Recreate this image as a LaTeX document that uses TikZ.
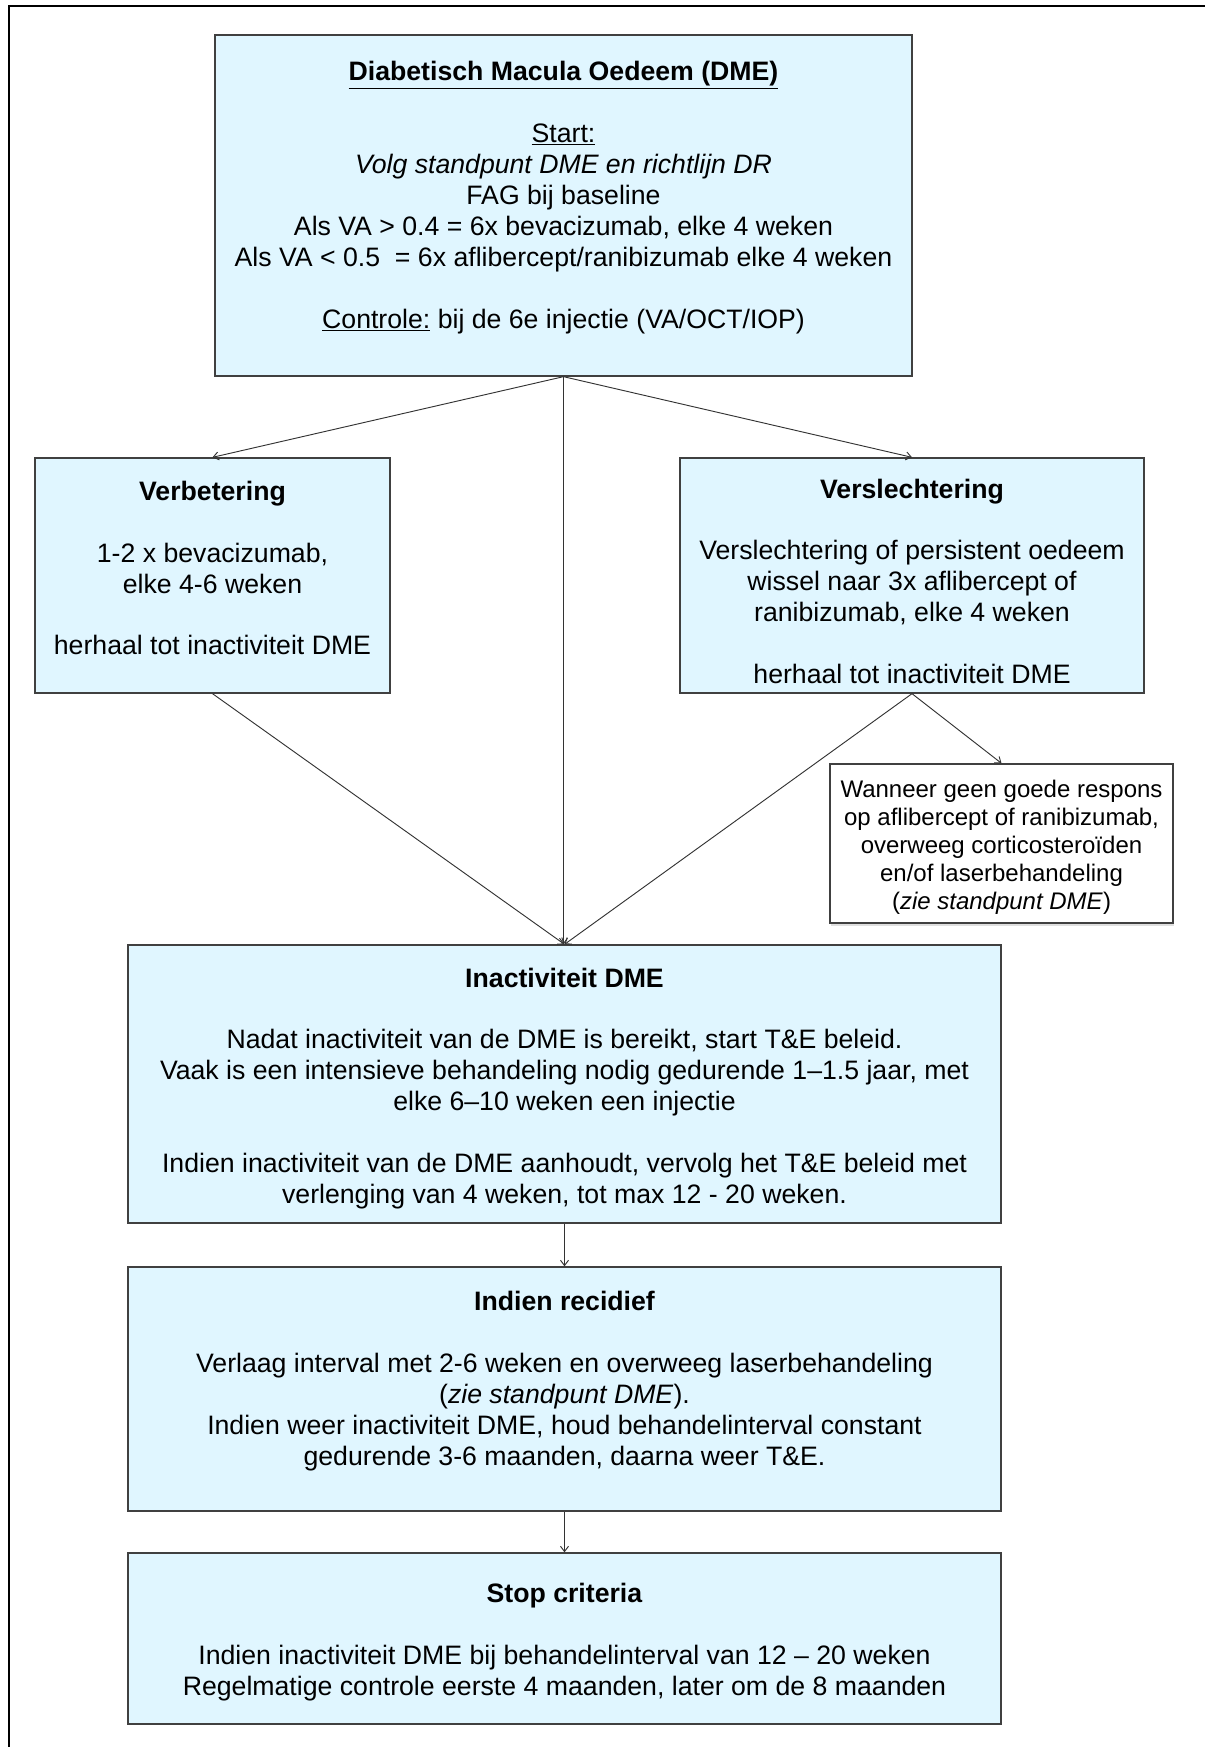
\documentclass[tikz,border=0pt]{standalone}
\usepackage{fontspec}
\setmainfont{Liberation Sans}
\usepackage{xcolor}
\usetikzlibrary{arrows.meta,shadows}

\definecolor{boxfill}{HTML}{E0F6FF}
\definecolor{boxline}{HTML}{404040}

\tikzset{
  stepbox/.style={draw=boxline, fill=boxfill, line width=1pt, align=center,
    inner sep=0pt, font=\fontsize{20}{23.25}\selectfont},
  notebox/.style={draw=boxline, fill=white, line width=1pt, align=center,
    inner sep=0pt, font=\fontsize{18}{21}\selectfont,
    drop shadow={shadow xshift=1pt, shadow yshift=-2pt, opacity=0.25}},
  link/.style={draw=black!80, line width=0.7pt, -{Straight Barb[length=4pt,width=6pt]}}
}

\begin{document}
\begin{tikzpicture}[x=0.75pt, y=-0.75pt]
\useasboundingbox (0,0) rectangle (1205,1747);
\draw[line width=1.5pt] (9,1747) -- (9,6) -- (1205,6);

\node[stepbox, minimum width=522.75pt, minimum height=255.75pt] (top) at (563.5,205.5)
  {\underline{\textbf{Diabetisch Macula Oedeem (DME)}}\\[23pt]
   \underline{Start:}\\
   \textit{Volg standpunt DME en richtlijn DR}\\
   FAG bij baseline\\
   Als VA > 0.4 = 6x bevacizumab, elke 4 weken\\
   Als VA < 0.5 \ = 6x aflibercept/ranibizumab elke 4 weken\\[23pt]
   \underline{Controle:} bij de 6e injectie (VA/OCT/IOP)\rule[-16pt]{0pt}{16pt}};

\node[stepbox, minimum width=266.25pt, minimum height=176.25pt] (verb) at (212.5,575.5)
  {\textbf{Verbetering}\\[23pt]
   1-2 x bevacizumab,\\
   elke 4-6 weken\\[23pt]
   herhaal tot inactiviteit DME\rule[-11pt]{0pt}{11pt}};

\node[stepbox, minimum width=348pt, minimum height=176.25pt] (versl) at (912,575.5)
  {\rule{0pt}{23pt}\textbf{Verslechtering}\\[23pt]
   Verslechtering of persistent oedeem\\
   wissel naar 3x aflibercept of\\
   ranibizumab, elke 4 weken\\[23pt]
   herhaal tot inactiviteit DME};

\node[notebox, minimum width=257.25pt, minimum height=119.25pt] (note) at (1001.5,843.5)
  {\rule{0pt}{18pt}Wanneer geen goede respons\\
   op aflibercept of ranibizumab,\\
   overweeg corticosteroïden\\
   en/of laserbehandeling\\
   (\textit{zie standpunt DME})};

\node[stepbox, minimum width=654.75pt, minimum height=208.5pt] (inact) at (564.5,1084)
  {\rule{0pt}{21pt}\textbf{Inactiviteit DME}\\[23pt]
   Nadat inactiviteit van de DME is bereikt, start T\&E beleid.\\
   Vaak is een intensieve behandeling nodig gedurende 1--1.5 jaar, met\\
   elke 6--10 weken een injectie\\[23pt]
   Indien inactiviteit van de DME aanhoudt, vervolg het T\&E beleid met\\
   verlenging van 4 weken, tot max 12 - 20 weken.};

\node[stepbox, minimum width=654.75pt, minimum height=183pt] (recid) at (564.5,1389)
  {\textbf{Indien recidief}\\[23pt]
   Verlaag interval met 2-6 weken en overweeg laserbehandeling\\
   (\textit{zie standpunt DME}).\\
   Indien weer inactiviteit DME, houd behandelinterval constant\\
   gedurende 3-6 maanden, daarna weer T\&E.\rule[-16pt]{0pt}{16pt}};

\node[stepbox, minimum width=654.75pt, minimum height=128.25pt] (stop) at (564.5,1638.5)
  {\rule{0pt}{19.5pt}\textbf{Stop criteria}\\[23pt]
   Indien inactiviteit DME bij behandelinterval van 12 -- 20 weken\\
   Regelmatige controle eerste 4 maanden, later om de 8 maanden};

\draw[link] (top.south) -- (verb.north);
\draw[link] (top.south) -- (versl.north);
\draw[link] (top.south) -- (top.south |- inact.north);
\draw[link] (verb.south) -- (inact.north);
\draw[link] (versl.south) -- (inact.north);
\draw[link] (versl.south) -- (note.north);
\draw[link] (inact.south) -- (inact.south |- recid.north);
\draw[link] (recid.south) -- (recid.south |- stop.north);
\end{tikzpicture}
\end{document}
